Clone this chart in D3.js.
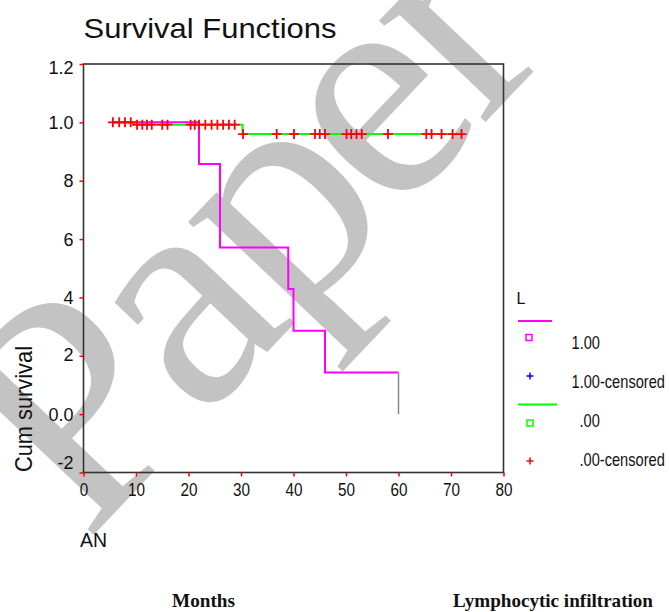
<!DOCTYPE html>
<html>
<head>
<meta charset="utf-8">
<script src="https://cdn.jsdelivr.net/npm/d3@7"></script>
<style>
  body { margin: 0; background: #fff; }
  svg { display: block; }
</style>
</head>
<body>
<svg id="chart" width="669" height="612"></svg>
<script>
// survival curve for L = 1.00 (step times and survival after each step)
const posEventMonths = [22, 26, 39, 40, 46];
const posSurvival = [0.857, 0.571, 0.429, 0.286, 0.143];
const posStartMonth = 5.5;
const posEndMonth = 60;

// survival curve for L = .00
const negEventMonths = [9.5, 30.3];
const negSurvival = [0.992, 0.96];
const negStartMonth = 5.5;
const negEndMonth = 72;

// censored cases for L = .00
const negCensoredMonths = [
  5.6, 6.8, 7.9, 9.0, 10.2, 11.2, 12.1, 13.0, 15.0, 16.0,
  20.4, 21.2, 22.0, 23.2, 24.4, 25.5, 26.6, 27.7, 28.8,
  30.4, 36.8, 40.1, 44.1, 45.0, 46.0, 50.1, 51.0, 52.0, 53.0,
  58.0, 65.3, 66.3, 68.2, 70.3, 72.0
];

const xTicks = [0, 10, 20, 30, 40, 50, 60, 70, 80];
const yTicks = [-0.2, 0, 0.2, 0.4, 0.6, 0.8, 1.0, 1.2];
const yTickLabels = ["-2", "0.0", "2", "4", "6", "8", "1.0", "1.2"];

const legendLabels = ["1.00", "1.00-censored", ".00", ".00-censored"];

const svg = d3.select("#chart");
const margin = { left: 83.5, right: 165.5, top: 64, bottom: 139.5 };
const width = 669, height = 612;

const x = d3.scaleLinear().domain([0, 80]).range([margin.left, width - margin.right]);
const y = d3.scaleLinear().domain([-0.2, 1.2]).range([height - margin.bottom, margin.top]);

// squeeze text horizontally like the source image
function squeeze(sel, k) {
  sel.each(function () {
    const len = this.getComputedTextLength();
    d3.select(this).attr("textLength", len * k).attr("lengthAdjust", "spacingAndGlyphs");
  });
}

// watermark
svg.append("text")
  .attr("transform", "translate(86,543) rotate(-46.5)")
  .attr("font-family", "Liberation Serif, Times New Roman, serif")
  .attr("font-size", 320)
  .attr("letter-spacing", -12)
  .attr("fill", "#c3c3c3")
  .text("Paper");

// title
svg.append("text")
  .attr("x", 83.5).attr("y", 38)
  .attr("font-family", "Liberation Sans, Arial, sans-serif")
  .attr("font-size", 28)
  .attr("fill", "#111")
  .attr("textLength", 253).attr("lengthAdjust", "spacingAndGlyphs")
  .text("Survival Functions");

// frame
svg.append("rect")
  .attr("x", x(0)).attr("y", y(1.2))
  .attr("width", x(80) - x(0)).attr("height", y(-0.2) - y(1.2))
  .attr("fill", "none").attr("stroke", "#333").attr("stroke-width", 1.6);

// y axis (bottom label sits raised, top one a bit lower, as in the source)
const yLabelShift = [-4.5, 6, 5, 6, 6, 6, 6, 9];
const yAxisG = svg.append("g").attr("transform", `translate(${x(0)},0)`)
  .call(d3.axisLeft(y).tickValues(yTicks).tickSize(4)
    .tickFormat((d, i) => yTickLabels[i]));
yAxisG.select(".domain").remove();
yAxisG.selectAll(".tick line").attr("stroke", "#ff0000").attr("stroke-width", 1.5);
yAxisG.selectAll(".tick text")
  .attr("font-family", "Liberation Sans, Arial, sans-serif")
  .attr("font-size", 18).attr("fill", "#111")
  .attr("x", -10).attr("dy", null)
  .attr("y", (d, i) => yLabelShift[i]);

// x axis
const xAxisG = svg.append("g").attr("transform", `translate(0,${y(-0.2)})`)
  .call(d3.axisBottom(x).tickValues(xTicks).tickSize(4).tickFormat(d3.format("d")));
xAxisG.select(".domain").remove();
xAxisG.selectAll(".tick line").attr("stroke", "#ff0000").attr("stroke-width", 1.5);
xAxisG.selectAll(".tick text")
  .attr("font-family", "Liberation Sans, Arial, sans-serif")
  .attr("font-size", 18).attr("fill", "#111")
  .attr("y", 23).attr("dy", null)
  .call(squeeze, 0.85);

// y label
svg.append("text")
  .attr("transform", `translate(32,472) rotate(-90)`)
  .attr("font-family", "Liberation Sans, Arial, sans-serif")
  .attr("font-size", 24).attr("fill", "#111")
  .attr("textLength", 126).attr("lengthAdjust", "spacingAndGlyphs")
  .text("Cum survival");

// step curves
function stepPoints(start, end, times, surv) {
  const pts = [[start, 1.0]];
  times.forEach((t, i) => pts.push([t, surv[i]]));
  pts.push([end, surv[surv.length - 1]]);
  return pts;
}
const line = d3.line().x((d) => x(d[0])).y((d) => y(d[1])).curve(d3.curveStepAfter);

svg.append("path")
  .datum(stepPoints(negStartMonth, negEndMonth, negEventMonths, negSurvival))
  .attr("d", line).attr("fill", "none")
  .attr("stroke", "#00ff00").attr("stroke-width", 2);

svg.append("path")
  .datum(stepPoints(posStartMonth, posEndMonth, posEventMonths, posSurvival))
  .attr("d", line).attr("fill", "none")
  .attr("stroke", "#ff00ff").attr("stroke-width", 2);

// last event at 60 months drops to zero
svg.append("line")
  .attr("x1", x(posEndMonth)).attr("x2", x(posEndMonth))
  .attr("y1", y(posSurvival[posSurvival.length - 1])).attr("y2", y(0))
  .attr("stroke", "#888").attr("stroke-width", 1.5);

// censored marks
function survAt(t, times, surv) {
  let s = 1.0;
  times.forEach((et, i) => { if (t >= et) s = surv[i]; });
  return s;
}
svg.append("g").selectAll("path")
  .data(negCensoredMonths)
  .join("path")
  .attr("transform", (d) => `translate(${x(d)},${y(survAt(d, negEventMonths, negSurvival))})`)
  .attr("d", "M-5,0H5M0,-5V5")
  .attr("stroke", "#ff0000").attr("stroke-width", 1.8).attr("fill", "none");

// legend
const lg = svg.append("g").attr("font-family", "Liberation Sans, Arial, sans-serif").attr("fill", "#111");
lg.append("text").attr("x", 516.5).attr("y", 303.5).attr("font-size", 16).text("L");

lg.append("line").attr("x1", 518).attr("x2", 552).attr("y1", 321).attr("y2", 321)
  .attr("stroke", "#ff00ff").attr("stroke-width", 2);
lg.append("rect").attr("x", 526).attr("y", 334.5).attr("width", 6).attr("height", 6)
  .attr("fill", "none").attr("stroke", "#ff00ff").attr("stroke-width", 1.5);
lg.append("path").attr("d", "M526.5,376H533.5M530,372.5V379.5")
  .attr("stroke", "#0000ff").attr("stroke-width", 1.5);

lg.append("line").attr("x1", 518).attr("x2", 557).attr("y1", 404.5).attr("y2", 404.5)
  .attr("stroke", "#00ff00").attr("stroke-width", 2);
lg.append("rect").attr("x", 527).attr("y", 420).attr("width", 6).attr("height", 6)
  .attr("fill", "none").attr("stroke", "#00ff00").attr("stroke-width", 1.5);
lg.append("path").attr("d", "M526.5,461H533.5M530,457.5V464.5")
  .attr("stroke", "#ff0000").attr("stroke-width", 1.5);

const legendPos = [[571.5, 348.5], [571.5, 387.5], [579.5, 427], [579.5, 466]];
lg.selectAll("text.item")
  .data(legendLabels)
  .join("text")
  .attr("class", "item")
  .attr("x", (d, i) => legendPos[i][0])
  .attr("y", (d, i) => legendPos[i][1])
  .attr("font-size", 18.5)
  .text((d) => d)
  .call(squeeze, 0.79);

// bottom captions
svg.append("text")
  .attr("x", 80).attr("y", 547)
  .attr("font-family", "Liberation Sans, Arial, sans-serif")
  .attr("font-size", 19.5).attr("fill", "#111")
  .text("AN");

const cap = svg.append("g")
  .attr("font-family", "Liberation Serif, Times New Roman, serif")
  .attr("font-weight", "bold").attr("font-size", 19.5).attr("fill", "#111");
cap.append("text").attr("x", 172).attr("y", 607)
  .attr("textLength", 63).attr("lengthAdjust", "spacingAndGlyphs").text("Months");
cap.append("text").attr("x", 453).attr("y", 607)
  .attr("textLength", 200).attr("lengthAdjust", "spacingAndGlyphs").text("Lymphocytic infiltration");
</script>
</body>
</html>
